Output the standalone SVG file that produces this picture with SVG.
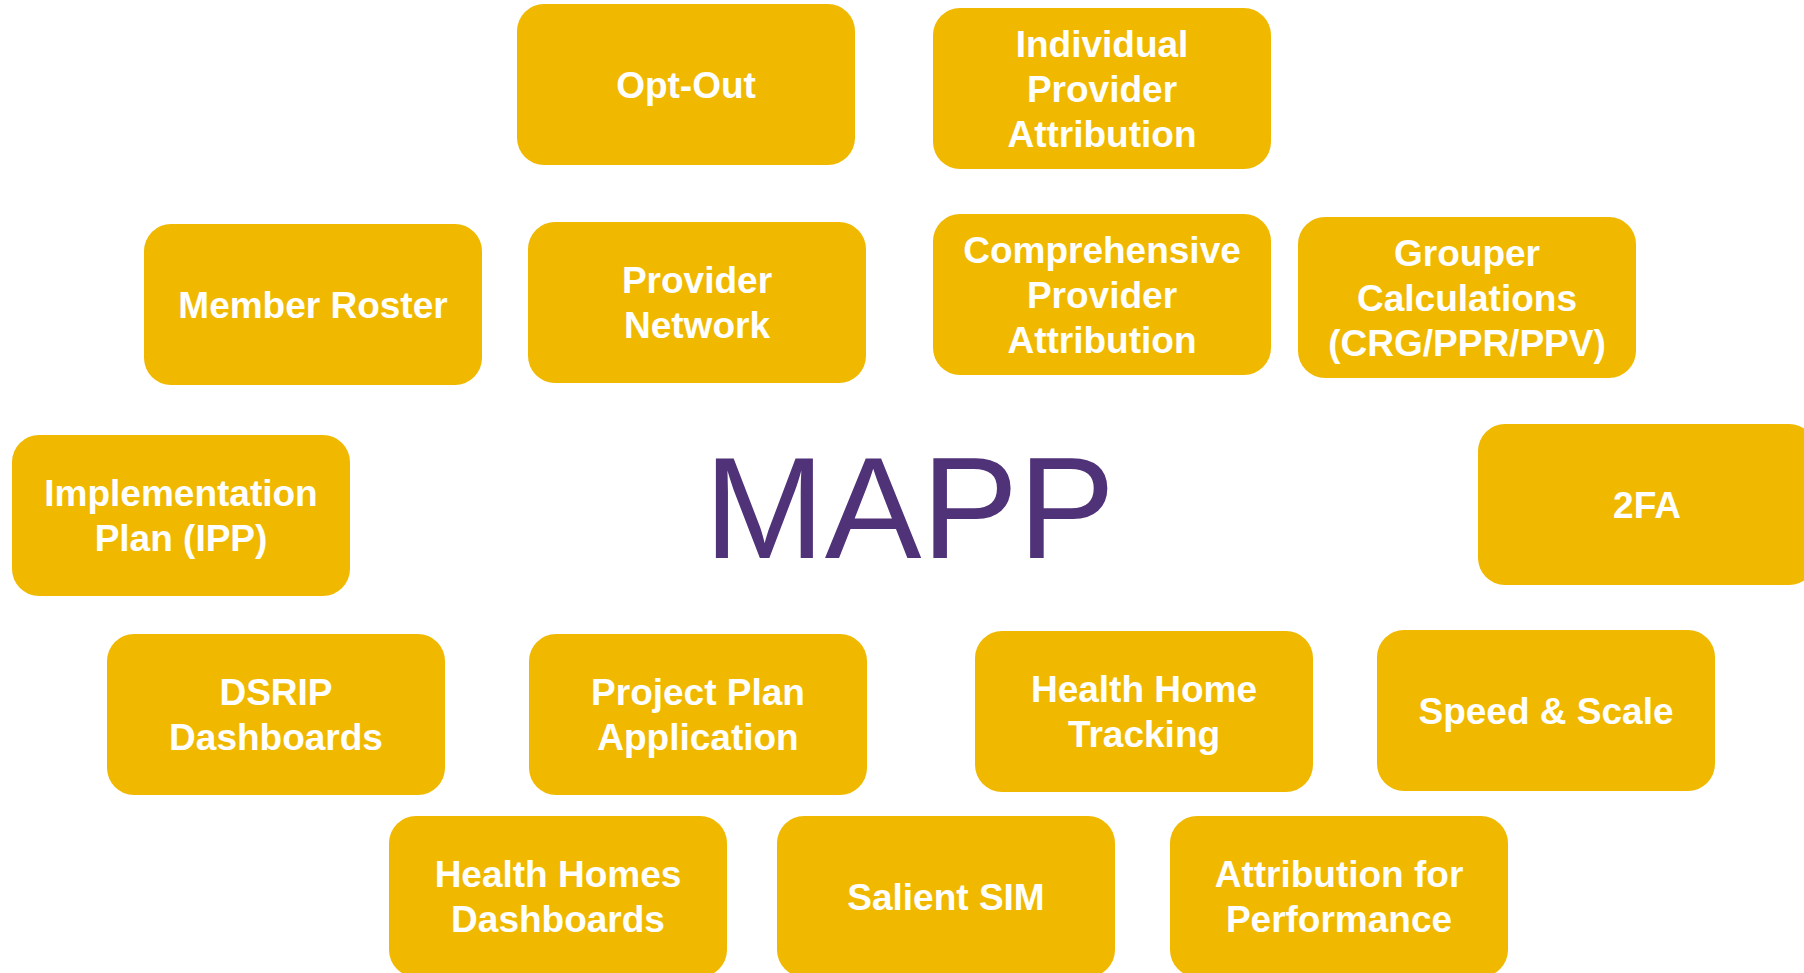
<svg xmlns="http://www.w3.org/2000/svg" width="1804" height="973" viewBox="0 0 1804 973">
<style>
.box{fill:#F0B900}
.lbl{font-family:"Liberation Sans",Arial,sans-serif;font-weight:bold;font-size:37px;fill:#FFFFFF;text-anchor:middle}
.title{font-family:"Liberation Sans",Arial,sans-serif;font-size:145px;fill:#4F3278}
</style>
<rect width="1804" height="973" fill="#FFFFFF"/>
<g id="connectors"></g>
<g id="mapp"><text class="title" x="704" y="558">MAPP</text></g>
<g id="opt-out"><rect class="box" x="517" y="4" width="338" height="161" rx="27" ry="27"/><text class="lbl" x="686" y="97.5">Opt-Out</text></g>
<g id="individual-provider-attribution"><rect class="box" x="933" y="8" width="338" height="161" rx="27" ry="27"/><text class="lbl" x="1102"><tspan x="1102" y="56.5">Individual</tspan><tspan x="1102" y="101.5">Provider</tspan><tspan x="1102" y="146.5">Attribution</tspan></text></g>
<g id="member-roster"><rect class="box" x="144" y="224" width="338" height="161" rx="27" ry="27"/><text class="lbl" x="313" y="317.5">Member Roster</text></g>
<g id="provider-network"><rect class="box" x="528" y="222" width="338" height="161" rx="27" ry="27"/><text class="lbl"><tspan x="697" y="293">Provider</tspan><tspan x="697" y="338">Network</tspan></text></g>
<g id="comprehensive-provider-attribution"><rect class="box" x="933" y="214" width="338" height="161" rx="27" ry="27"/><text class="lbl"><tspan x="1102" y="262.5">Comprehensive</tspan><tspan x="1102" y="307.5">Provider</tspan><tspan x="1102" y="352.5">Attribution</tspan></text></g>
<g id="grouper-calculations"><rect class="box" x="1298" y="217" width="338" height="161" rx="27" ry="27"/><text class="lbl"><tspan x="1467" y="265.5">Grouper</tspan><tspan x="1467" y="310.5">Calculations</tspan><tspan x="1467" y="355.5">(CRG/PPR/PPV)</tspan></text></g>
<g id="implementation-plan"><rect class="box" x="12" y="435" width="338" height="161" rx="27" ry="27"/><text class="lbl"><tspan x="181" y="506">Implementation</tspan><tspan x="181" y="551">Plan (IPP)</tspan></text></g>
<g id="two-fa"><rect class="box" x="1478" y="424" width="338" height="161" rx="27" ry="27"/><text class="lbl" x="1647" y="517.5">2FA</text></g>
<g id="dsrip-dashboards"><rect class="box" x="107" y="634" width="338" height="161" rx="27" ry="27"/><text class="lbl"><tspan x="276" y="705">DSRIP</tspan><tspan x="276" y="750">Dashboards</tspan></text></g>
<g id="project-plan-application"><rect class="box" x="529" y="634" width="338" height="161" rx="27" ry="27"/><text class="lbl"><tspan x="698" y="705">Project Plan</tspan><tspan x="698" y="750">Application</tspan></text></g>
<g id="health-home-tracking"><rect class="box" x="975" y="631" width="338" height="161" rx="27" ry="27"/><text class="lbl"><tspan x="1144" y="702">Health Home</tspan><tspan x="1144" y="747">Tracking</tspan></text></g>
<g id="speed-scale"><rect class="box" x="1377" y="630" width="338" height="161" rx="27" ry="27"/><text class="lbl" x="1546" y="723.5">Speed &amp; Scale</text></g>
<g id="health-homes-dashboards"><rect class="box" x="389" y="816" width="338" height="161" rx="27" ry="27"/><text class="lbl"><tspan x="558" y="887">Health Homes</tspan><tspan x="558" y="932">Dashboards</tspan></text></g>
<g id="salient-sim"><rect class="box" x="777" y="816" width="338" height="161" rx="27" ry="27"/><text class="lbl" x="946" y="909.5">Salient SIM</text></g>
<g id="attribution-for-performance"><rect class="box" x="1170" y="816" width="338" height="161" rx="27" ry="27"/><text class="lbl"><tspan x="1339" y="887">Attribution for</tspan><tspan x="1339" y="932">Performance</tspan></text></g>
</svg>
